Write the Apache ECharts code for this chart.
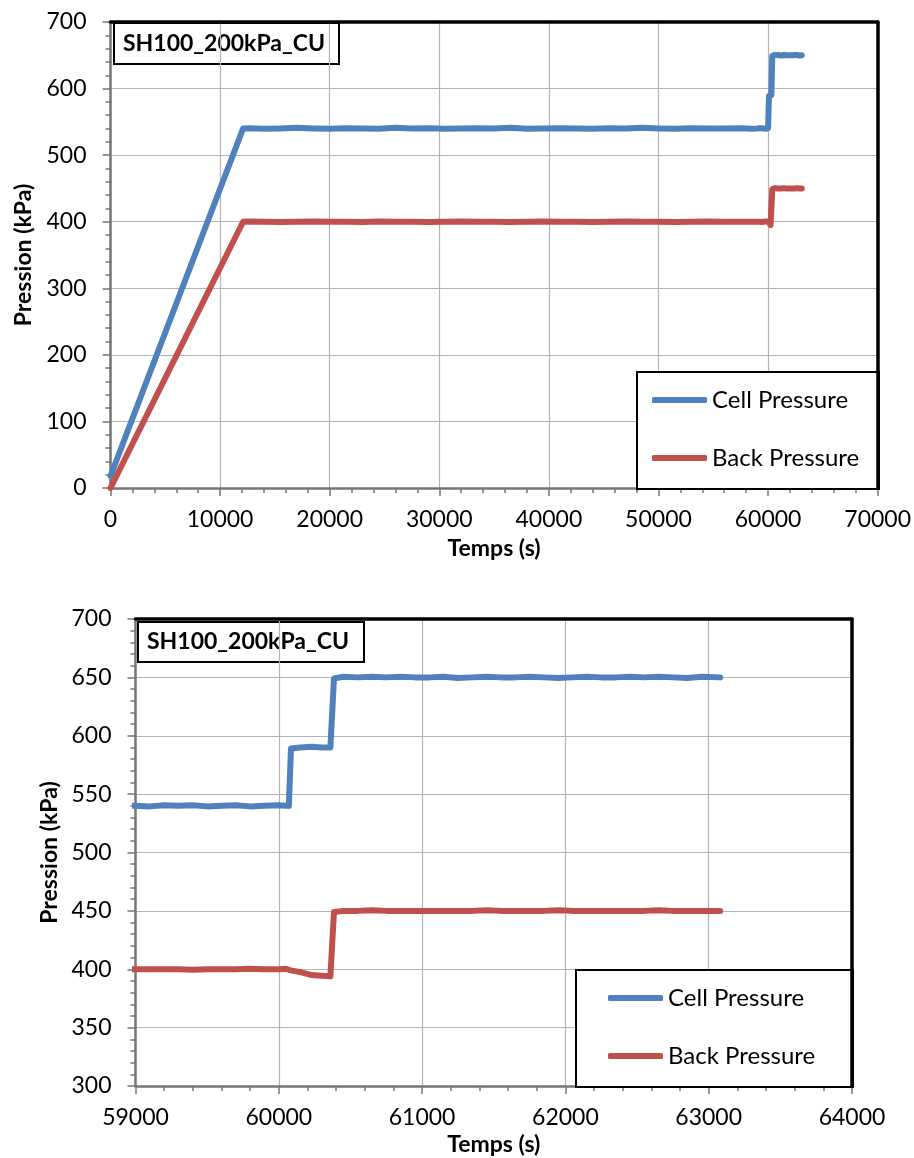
<!DOCTYPE html>
<html>
<head>
<meta charset="utf-8">
<script src="https://cdn.jsdelivr.net/npm/echarts@6/dist/echarts.min.js"></script>
<style>
html,body{margin:0;padding:0;background:#fff;}
#chart{width:914px;height:1158px;}
</style>
</head>
<body>
<div id="chart"></div>
<script>
// ---- data ----
var chartTitle = 'SH100_200kPa_CU';
var seriesNames = ['Cell Pressure', 'Back Pressure'];
var xTitle = 'Temps (s)';
var yTitle = 'Pression (kPa)';

var times = [
  0, 12100, 12600, 14000, 15500, 17000, 18500, 20000, 21500, 23000, 24500, 26000,
  27500, 29000, 30500, 32000, 33500, 35000, 36500, 38000, 39500, 41000, 42500,
  44000, 45500, 47000, 48500, 50000, 51500, 53000, 54500, 56000, 57500, 58500,
  59000, 59100, 59200, 59300, 59400, 59500, 59600, 59700, 59800, 59900, 60000,
  60050, 60070, 60085, 60150, 60230, 60300, 60360, 60385, 60450, 60550, 60650,
  60750, 60850, 60950, 61050, 61150, 61250, 61350, 61450, 61550, 61650, 61750,
  61850, 61950, 62050, 62150, 62250, 62350, 62450, 62550, 62650, 62750, 62850,
  62950, 63080
];
var cellPressure = [
  18, 540, 540.5, 539.5, 540, 541, 540, 539.5, 540.5, 540, 539.5, 541,
  540, 540.5, 539.5, 540, 540.5, 540, 541, 539.5, 540, 540.5, 540,
  539.5, 540.5, 540, 541, 540, 539.5, 540.5, 540, 540, 540.5, 539.5,
  540, 539.5, 540.5, 540, 540.5, 539.5, 540, 540.5, 539.5, 540, 540.5,
  540, 540, 589, 590, 590.5, 590, 590, 649, 650.5, 650, 650.5,
  650, 650.5, 650, 650, 650.5, 649.5, 650, 650.5, 650, 650, 650.5,
  650, 649.5, 650, 650.5, 650, 650, 650.5, 650, 650.5, 650, 649.5,
  650.5, 650
];
var backPressure = [
  0, 400, 400.5, 400, 399.5, 400, 400.5, 400, 400, 399.5, 400.5, 400,
  400, 399.5, 400, 400.5, 400, 400, 399.5, 400, 400.5, 400, 400,
  399.5, 400, 400.5, 400, 400, 399.5, 400, 400.5, 400, 400, 400,
  400, 400, 400, 400, 399.5, 400, 400, 400, 400.5, 400, 400,
  400.5, 399.5, 399, 397.5, 395, 394.5, 394, 449, 450, 450, 450.5,
  450, 450, 450, 450, 450, 450, 450, 450.5, 450, 450, 450,
  450, 450.5, 450, 450, 450, 450, 450, 450, 450.5, 450, 450,
  450, 450
];

var topXTicks = {min: 0, max: 70000, interval: 10000};
var topYTicks = {min: 0, max: 700, interval: 100};
var botXTicks = {min: 59000, max: 64000, interval: 1000};
var botYTicks = {min: 300, max: 700, interval: 50};

// ---- build ----
function pairs(vals) { return times.map(function (t, i) { return [t, vals[i]]; }); }
var cellData = pairs(cellPressure);
var backData = pairs(backPressure);

var FONT = 'Lato';
var BLUE = '#4F81BD', RED = '#C0504D';
var AXIS_GRAY = '#767676', GRID_GRAY = '#b3b3b3';

function xAxis(gridIndex, ticks, nameGap) {
  return {
    type: 'value', gridIndex: gridIndex, position: 'bottom',
    min: ticks.min, max: ticks.max, interval: ticks.interval,
    name: xTitle, nameLocation: 'middle', nameGap: nameGap,
    nameTextStyle: {fontFamily: FONT, fontWeight: 'bold', fontSize: 23, color: '#000'},
    axisLine: {show: true, onZero: false, lineStyle: {color: AXIS_GRAY, width: 2.5}},
    axisTick: {show: true, inside: false, length: 8, lineStyle: {color: AXIS_GRAY, width: 1.5}},
    minorTick: {show: true, splitNumber: 5, length: 5, lineStyle: {color: AXIS_GRAY, width: 1.5}},
    axisLabel: {fontFamily: FONT, fontSize: 23, color: '#000', margin: 20,
      formatter: function (v) { return String(v); }},
    splitLine: {show: true, lineStyle: {color: GRID_GRAY, width: 1.2}},
    z: 2
  };
}
function yAxis(gridIndex, ticks, nameGap) {
  return {
    type: 'value', gridIndex: gridIndex, position: 'left',
    min: ticks.min, max: ticks.max, interval: ticks.interval,
    name: yTitle, nameLocation: 'middle', nameGap: nameGap,
    nameTextStyle: {fontFamily: FONT, fontWeight: 'bold', fontSize: 23, color: '#000'},
    axisLine: {show: true, onZero: false, lineStyle: {color: AXIS_GRAY, width: 2.5}},
    axisTick: {show: true, inside: false, length: 8, lineStyle: {color: AXIS_GRAY, width: 1.5}},
    minorTick: {show: true, splitNumber: 5, length: 5, lineStyle: {color: AXIS_GRAY, width: 1.5}},
    axisLabel: {fontFamily: FONT, fontSize: 23, color: '#000', margin: 24,
      formatter: function (v) { return String(v); }},
    splitLine: {show: true, lineStyle: {color: GRID_GRAY, width: 1.2}},
    z: 2
  };
}
// frame axes (black top / right border of the plot area)
function frameAxis(kind, gridIndex, ticks) {
  return {
    type: 'value', gridIndex: gridIndex, position: kind === 'x' ? 'top' : 'right',
    min: ticks.min, max: ticks.max, interval: ticks.interval,
    axisLine: {show: true, onZero: false, lineStyle: {color: '#000', width: 3.5}},
    axisTick: {show: false}, minorTick: {show: false},
    axisLabel: {show: false}, splitLine: {show: false}, z: 4
  };
}
function lineSeries(name, data, color, idx) {
  return {
    name: name, type: 'line', xAxisIndex: idx, yAxisIndex: idx,
    data: data, showSymbol: false, symbol: 'none', clip: true,
    lineStyle: {color: color, width: 6, cap: 'round', join: 'round'},
    itemStyle: {color: color}, z: 3, animation: false
  };
}
function titleBox(x, y, w, h) {
  return {
    type: 'group', left: x, top: y, z: 20,
    children: [
      {type: 'rect', shape: {x: 0, y: 0, width: w, height: h},
       style: {fill: '#fff', stroke: '#000', lineWidth: 2}},
      {type: 'text', x: 9, y: h / 2,
       style: {text: chartTitle, font: 'bold 23px Lato', fill: '#000', verticalAlign: 'middle', textVerticalAlign: 'middle'}}
    ]
  };
}
function legendBox(x, y, w, h) {
  return {type: 'rect', left: x, top: y, z: 4,
    shape: {x: 0, y: 0, width: w, height: h},
    style: {fill: '#fff', stroke: '#000', lineWidth: 2}};
}
function legend(left, top) {
  return {
    data: seriesNames, orient: 'vertical', left: left, top: top, padding: 0,
    itemWidth: 55, itemHeight: 6, itemGap: 30, icon: 'roundRect', z: 6,
    selectedMode: false,
    textStyle: {fontFamily: FONT, fontSize: 24, color: '#000', lineHeight: 28}
  };
}

var chart = echarts.init(document.getElementById('chart'), null, {renderer: 'canvas'});
chart.setOption({
  animation: false,
  backgroundColor: '#fff',
  grid: [
    {left: 110.5, top: 22, right: 36, bottom: 670, show: false},
    {left: 135.5, top: 619, right: 62, bottom: 72, show: false}
  ],
  xAxis: [xAxis(0, topXTicks, 49), xAxis(1, botXTicks, 47), frameAxis('x', 0, topXTicks), frameAxis('x', 1, botXTicks)],
  yAxis: [yAxis(0, topYTicks, 75), yAxis(1, botYTicks, 66), frameAxis('y', 0, topYTicks), frameAxis('y', 1, botYTicks)],
  legend: [legend(652, 386), legend(608, 984)],
  series: [
    lineSeries(seriesNames[0], cellData, BLUE, 0),
    lineSeries(seriesNames[1], backData, RED, 0),
    lineSeries(seriesNames[0], cellData, BLUE, 1),
    lineSeries(seriesNames[1], backData, RED, 1)
  ],
  graphic: [
    titleBox(113, 22, 225, 41),
    titleBox(137, 621, 226, 40),
    legendBox(636, 371, 242, 117),
    legendBox(575, 969, 277, 117)
  ]
});
</script>
</body>
</html>
